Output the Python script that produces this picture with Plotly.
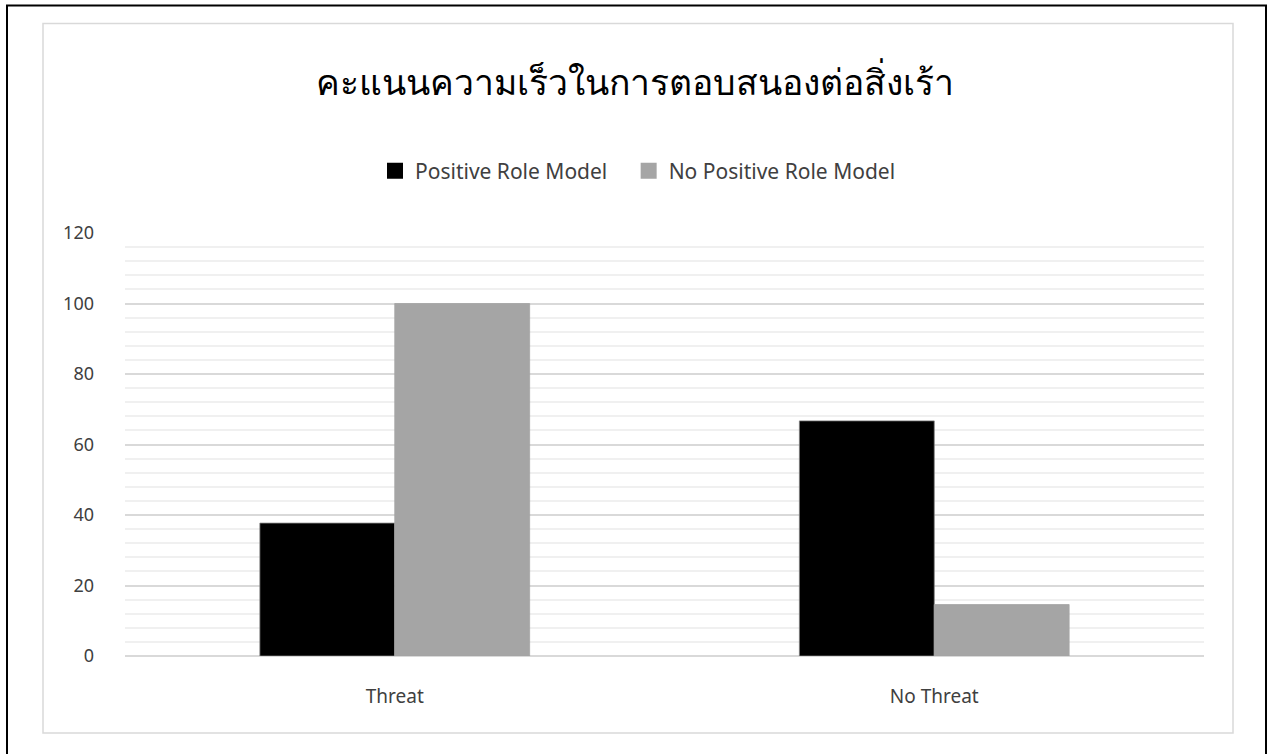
import plotly.graph_objects as go

categories = ["Threat", "No Threat"]
series_names = ["Positive Role Model", "No Positive Role Model"]
positive_role_model = [37.7, 66.7]
no_positive_role_model = [100, 14.6]
title_text = "คะแนนความเร็วในการตอบสนองต่อสิ่งเร้า"

W, H = 1267, 754
L, R, T, B = 125, 63, 233, 98
pw, ph = W - L - R, H - T - B

def px(x):
    return (x - L) / pw

def py(y):
    return (H - B - y) / ph

colors = ["#000000", "#a5a5a5"]
edges = ["#7f7f7f", "#a5a5a5"]
legend_pad = ["\u00a0\u00a0\u00a0", ""]

fig = go.Figure()
for name, vals, c, e in zip(series_names, [positive_role_model, no_positive_role_model], colors, edges):
    fig.add_trace(go.Bar(x=categories, y=vals, name=name, legendgroup=name, showlegend=False,
                         marker=dict(color=c, line=dict(color=e, width=0.8))))
for name, c, pad in zip(series_names, colors, legend_pad):
    fig.add_trace(go.Scatter(x=[None], y=[None], mode="markers", name=name + pad, legendgroup=name,
                             marker=dict(symbol="square", size=17, color=c)))

font_fam = "Noto Sans, DejaVu Sans, sans-serif"
fig.update_layout(
    width=W, height=H,
    margin=dict(l=L, r=R, t=T, b=B),
    paper_bgcolor="white", plot_bgcolor="white",
    barmode="group", bargap=0.5, bargroupgap=0,
    font=dict(family=font_fam, color="#404040", size=18),
    title=dict(text=title_text, x=px(635), xref="paper", xanchor="center",
               y=1 - 83 / H, yref="container", yanchor="middle",
               font=dict(size=35.5, color="#000000", family=font_fam)),
    legend=dict(orientation="h", x=px(638), xanchor="center", y=py(171), yanchor="middle",
                font=dict(size=21, color="#404040"), itemwidth=30, traceorder="normal",
                itemsizing="trace"),
    showlegend=True,
)
fig.update_yaxes(range=[0, 120], dtick=20, showgrid=True, gridcolor="#d9d9d9", gridwidth=1.5,
                 minor=dict(dtick=4, showgrid=True, gridcolor="#f0f0f0", gridwidth=1.5),
                 zeroline=True, zerolinecolor="#d9d9d9", zerolinewidth=1.5,
                 showline=False, ticks="", ticklabelstandoff=30,
                 tickfont=dict(size=18, color="#404040"))
fig.update_xaxes(showgrid=False, showline=False, ticks="", ticklabelstandoff=27,
                 tickfont=dict(size=19, color="#404040"))

fig.add_shape(type="rect", xref="paper", yref="paper",
              x0=px(43), x1=px(1233), y0=py(733), y1=py(23.5),
              line=dict(color="#d9d9d9", width=1.5), fillcolor="rgba(0,0,0,0)", layer="below")
fig.add_shape(type="rect", xref="paper", yref="paper",
              x0=px(7), x1=px(1266), y0=py(770), y1=py(5.5),
              line=dict(color="#000000", width=2), fillcolor="rgba(0,0,0,0)", layer="below")

fig.write_html("out.html")
